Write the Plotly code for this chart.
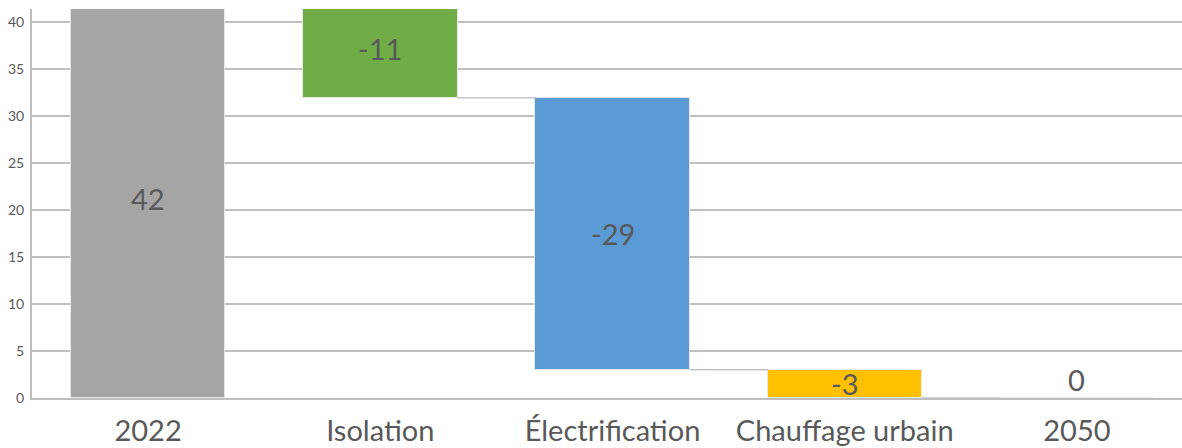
import plotly.graph_objects as go

categories = ["2022", "Isolation", "Électrification", "Chauffage urbain", "2050"]
values = [42.4, -10.5, -28.9, -3.0, 0.0]
measures = ["absolute", "relative", "relative", "relative", "total"]
colors = ["#a5a5a5", "#70ad47", "#5b9bd5", "#ffc000", "#a5a5a5"]
y_ticks = [0, 5, 10, 15, 20, 25, 30, 35, 40]

FONT = "Lato"
FS = 29
TXT = "#595959"
BAR_W = 0.665


def label(v):
    s = -1 if v < 0 else 1
    return str(s * int(abs(v) + 0.5))


bases, heights, texts = [], [], []
running = 0.0
for v, m in zip(values, measures):
    if m == "absolute":
        bases.append(0.0); heights.append(v); running = v
        texts.append(label(v))
    elif m == "relative":
        bases.append(running); heights.append(v); running += v
        texts.append(label(v))
    else:
        bases.append(0.0); heights.append(running)
        texts.append(label(running))

xi = list(range(len(categories)))

fig = go.Figure()
fig.add_trace(go.Bar(
    x=xi, y=heights, base=bases, width=BAR_W,
    marker=dict(color=colors, line=dict(color="#e6e6e6", width=1)),
    showlegend=False, hoverinfo="skip",
))

# connectors
cx, cy = [], []
for i in range(len(categories) - 1):
    lvl = bases[i] + heights[i]
    cx += [i + BAR_W / 2, i + 1 - BAR_W / 2, None]
    cy += [lvl, lvl, None]
fig.add_trace(go.Scatter(x=cx, y=cy, mode="lines",
                         line=dict(color="#a6a6a6", width=1),
                         showlegend=False, hoverinfo="skip"))

annotations = []
for i, (b, h, t) in enumerate(zip(bases, heights, texts)):
    if abs(h) < 1e-9:
        annotations.append(dict(x=i, y=0, xref="x", yref="y", text=t,
                                showarrow=False, yanchor="bottom", yshift=-1,
                                font=dict(family=FONT, size=FS, color=TXT)))
    else:
        annotations.append(dict(x=i, y=b + h / 2, xref="x", yref="y", text=t,
                                showarrow=False, yanchor="middle",
                                font=dict(family=FONT, size=FS, color=TXT)))

W, H = 1182, 448
ML, MT, MB = 32, 9, 50
fig.update_layout(
    width=W, height=H,
    margin=dict(l=ML, r=0, t=MT, b=MB, autoexpand=False),
    paper_bgcolor="white", plot_bgcolor="white",
    bargap=0,
    annotations=annotations,
    xaxis=dict(
        range=[-0.5, 4.5 - 11 / 232], tickmode="array", tickvals=xi,
        ticktext=categories, showgrid=False, zeroline=False,
        showline=True, linecolor="#bfbfbf", linewidth=2,
        tickfont=dict(family=FONT, size=FS, color=TXT),
        ticks="", ticklabelstandoff=6, automargin=False,
    ),
    yaxis=dict(
        range=[0, 41.35], tickmode="array", tickvals=y_ticks,
        showgrid=True, gridcolor="#bfbfbf", gridwidth=1.5,
        zeroline=False, showline=True, linecolor="#bfbfbf", linewidth=2,
        tickfont=dict(family=FONT, size=14, color=TXT),
        ticks="", ticklabelstandoff=3, automargin=False,
    ),
)

fig.write_html("out.html")
